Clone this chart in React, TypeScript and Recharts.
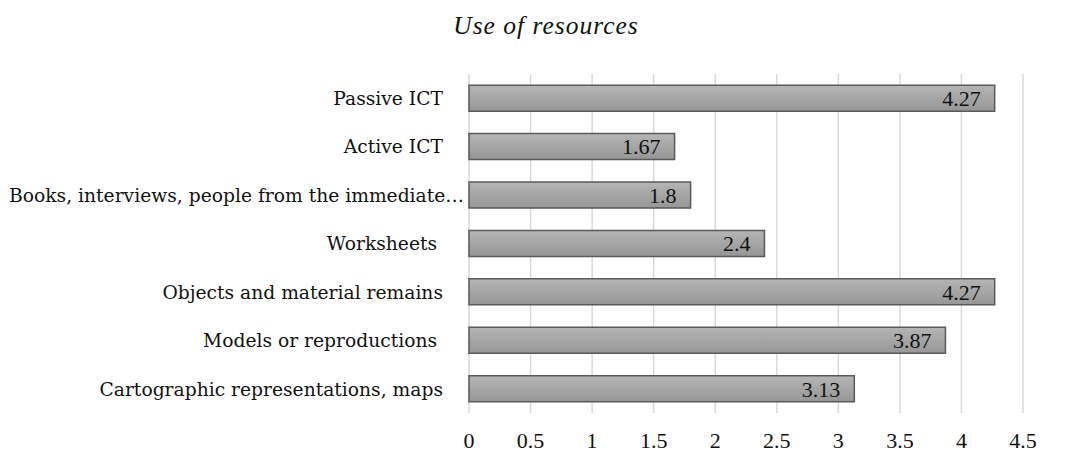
import { BarChart, Bar, XAxis, YAxis, CartesianGrid, LabelList } from 'recharts';

const categories = [
  'Passive ICT',
  'Active ICT',
  'Books, interviews, people from the immediate…',
  'Worksheets ',
  'Objects and material remains',
  'Models or reproductions ',
  'Cartographic representations, maps',
];
const values = [4.27, 1.67, 1.8, 2.4, 4.27, 3.87, 3.13];
const xTicks = [0, 0.5, 1, 1.5, 2, 2.5, 3, 3.5, 4, 4.5];

const data = categories.map((name, i) => ({ name, value: values[i] }));

const FONT = '"DejaVu Serif", serif';
const NUM_FONT = '"Liberation Serif", serif';

// excel pulls the truncated label right up to the axis, the others sit further left
function CategoryTick({ x, y, payload }: any) {
  const label: string = payload.value;
  const gap = label.endsWith('…') ? 3 : 24;
  return (
    <text
      x={x - gap}
      y={y}
      dy="0.36em"
      textAnchor="end"
      fill="#111"
      style={{ fontFamily: FONT, fontSize: 18.7, whiteSpace: 'pre' }}
    >
      {label}
    </text>
  );
}

export default function App() {
  return (
    <div style={{ position: 'absolute', left: 0, top: 0, width: 1074, height: 462, background: '#fff' }}>
      <div
        style={{
          position: 'absolute',
          top: 12,
          left: 0,
          width: 1092,
          lineHeight: '28px',
          textAlign: 'center',
          fontFamily: NUM_FONT,
          fontStyle: 'italic',
          fontSize: 25.5,
          letterSpacing: 1,
          color: '#111',
          whiteSpace: 'nowrap',
        }}
      >
        Use of resources
      </div>
      <BarChart
        width={1074}
        height={462}
        data={data}
        layout="vertical"
        margin={{ top: 74, right: 51, bottom: 19, left: 0 }}
        barCategoryGap="23%"
      >
        <defs>
          <linearGradient id="barFill" x1="0" y1="0" x2="0" y2="1">
            <stop offset="0%" stopColor="#b5b5b5" />
            <stop offset="100%" stopColor="#969696" />
          </linearGradient>
        </defs>
        <CartesianGrid horizontal={false} stroke="#d9d9d9" strokeWidth={1.5} />
        <XAxis
          type="number"
          domain={[0, 4.5]}
          ticks={xTicks}
          axisLine={false}
          tickLine={false}
          tickSize={0}
          tickMargin={19}
          height={30}
          interval={0}
          tick={{ fontFamily: NUM_FONT, fontSize: 22, fill: '#111' }}
        />
        <YAxis
          type="category"
          dataKey="name"
          width={469}
          axisLine={false}
          tickLine={false}
          tickSize={0}
          interval={0}
          tick={<CategoryTick />}
        />
        <Bar dataKey="value" fill="url(#barFill)" stroke="#5a5a5a" strokeWidth={1.5} isAnimationActive={false}>
          <LabelList
            dataKey="value"
            position="insideRight"
            offset={14}
            style={{ fontFamily: NUM_FONT, fontSize: 22, fill: '#111' }}
          />
        </Bar>
      </BarChart>
    </div>
  );
}
